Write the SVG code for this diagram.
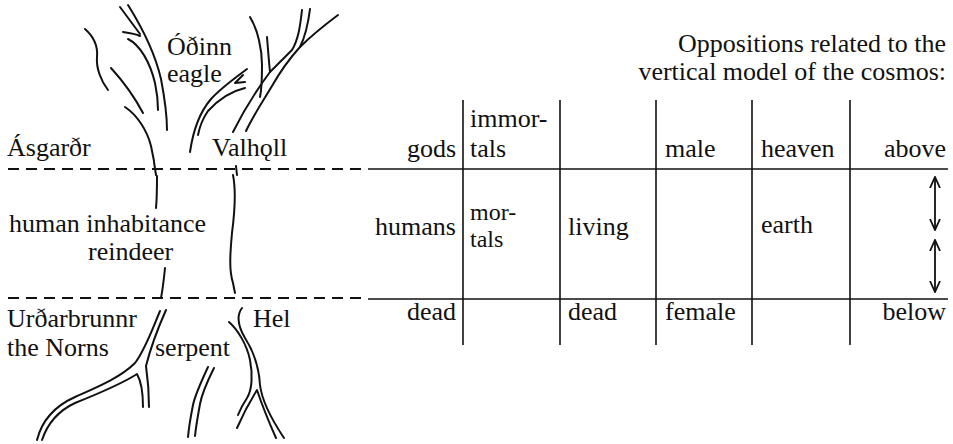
<svg xmlns="http://www.w3.org/2000/svg" width="953" height="444" viewBox="0 0 953 444">
  <style>
    text { font-family: "Liberation Serif", "Times New Roman", serif; font-size: 26px; fill: #111; }
    .end { text-anchor: end; }
    .tight { font-size: 24px; }
    .stroke { fill: none; stroke: #111; stroke-width: 2; stroke-linecap: round; stroke-linejoin: round; }
    .rule { fill: none; stroke: #111; stroke-width: 1.6; }
    .dash { fill: none; stroke: #111; stroke-width: 2; stroke-dasharray: 11 7; }
    .arrow { fill: none; stroke: #111; stroke-width: 1.8; marker-start: url(#head); marker-end: url(#head); }
  </style>
  <defs>
    <marker id="head" viewBox="0 0 12 12" refX="11" refY="6" markerWidth="12" markerHeight="12" markerUnits="userSpaceOnUse" orient="auto-start-reverse">
      <path d="M0,1 L11,6 L0,11" fill="none" stroke="#111" stroke-width="1.8"/>
    </marker>
  </defs>

  <rect width="953" height="444" fill="#fff"/>

  <!-- World tree: branches, trunk and roots -->
  <g id="tree" class="stroke">
    <!-- left crown -->
    <path d="M85,29 C94,37 98,47 97,57 C96,68 101,81 108,90"/>
    <path d="M111,68 C121,79 134,96 143,113"/>
    <path d="M125,107 C137,115 147,130 151,146 L154,161"/>
    <path d="M128,5 C143,29 155,53 161,79 C165,100 167,118 167,130"/>
    <path d="M120,7 L140,34"/>
    <path d="M123,32 C130,33 136,34 140,36"/>
    <path d="M128,39 C140,45 150,62 155,83 C158,97 158,105 158,110"/>
    <!-- eagle branch -->
    <path d="M247,69 C235,78 221,88 211,99 C199,113 193,131 190,152"/>
    <path d="M243,75 L235,83 L245,82"/>
    <path d="M245,88 C232,91 218,100 208,111 C201,121 199,130 198,135"/>
    <!-- right crown -->
    <path d="M250,17 C258,30 262,50 262,65 C262,78 262,88 260,97"/>
    <path d="M267,37 C268,50 269,62 270,72"/>
    <path d="M302,10 C300,28 298,40 292,50 L270,72 C258,88 245,108 233,132"/>
    <path d="M310,9 C308,25 305,37 300,47"/>
    <path d="M338,15 C322,27 310,37 300,47 C290,58 280,72 272,86 C263,101 253,116 246,131"/>
    <!-- trunk -->
    <path d="M154,162 L156,175"/>
    <path d="M236,166 L237,175"/>
    <path d="M157,176 C157,188 157,198 156,208"/>
    <path d="M165,268 C164,278 163,288 161,298"/>
    <path d="M233,175 C236,190 235,210 232,233 C230,255 229,270 233,283 L235,293"/>
    <!-- roots -->
    <path d="M160,311 C152,330 145,350 135,363 C120,378 95,388 75,397 C55,406 42,420 37,440"/>
    <path d="M166,310 C158,328 150,350 146,366 C148,380 149,395 149,407"/>
    <path d="M143,407 C143,392 141,381 137,374 C120,385 95,395 75,403 C58,411 47,425 42,440"/>
    <path d="M208,367 C201,382 195,395 193,405 C191,415 189,426 188,437"/>
    <path d="M214,368 C207,382 202,393 200,404 C198,415 196,426 195,436"/>
    <path d="M242,308 C236,316 238,326 245,338 C254,352 259,368 260,385 C262,402 272,420 284,438"/>
    <path d="M229,322 C238,330 247,345 250,360 C253,375 252,390 247,398 C243,404 240,410 238,415"/>
    <path d="M237,428 C244,412 252,398 257,390 C262,405 268,420 276,438"/>
  </g>

  <!-- Level boundaries of the cosmos -->
  <g id="levels">
    <path class="dash" d="M8,169 H364"/>
    <path class="dash" d="M8,298 H364"/>
  </g>

  <!-- Tree labels -->
  <g id="upper-world">
    <text x="167" y="55">Óðinn</text>
    <text x="167" y="82">eagle</text>
    <text x="7" y="156">Ásgarðr</text>
    <text x="212" y="156">Valhǫll</text>
  </g>
  <g id="middle-world">
    <text x="9" y="232">human inhabitance</text>
    <text x="88" y="260">reindeer</text>
  </g>
  <g id="lower-world">
    <text x="7" y="327">Urðarbrunnr</text>
    <text x="7" y="356">the Norns</text>
    <text x="155" y="356">serpent</text>
    <text x="253" y="327">Hel</text>
  </g>

  <!-- Table of oppositions -->
  <g id="title">
    <text class="end" x="946" y="52">Oppositions related to the</text>
    <text class="end" x="946" y="80">vertical model of the cosmos:</text>
  </g>
  <g id="table-grid" class="rule">
    <path d="M368,169 H948"/>
    <path d="M368,299 H948"/>
    <path d="M463,100 V345"/>
    <path d="M560,100 V345"/>
    <path d="M656,100 V345"/>
    <path d="M752,100 V345"/>
    <path d="M850,100 V345"/>
  </g>
  <g id="row-above">
    <text class="end" x="456" y="157">gods</text>
    <text x="470" y="127">immor-</text>
    <text x="470" y="157">tals</text>
    <text x="665" y="157">male</text>
    <text x="761" y="157">heaven</text>
    <text class="end" x="946" y="157">above</text>
  </g>
  <g id="row-middle">
    <text class="end" x="456" y="235">humans</text>
    <text class="tight" x="470" y="220">mor-</text>
    <text class="tight" x="470" y="247">tals</text>
    <text x="568" y="235">living</text>
    <text x="761" y="233">earth</text>
  </g>
  <g id="row-below">
    <text class="end" x="456" y="320">dead</text>
    <text x="568" y="320">dead</text>
    <text x="665" y="320">female</text>
    <text class="end" x="946" y="320">below</text>
  </g>
  <g id="connectors">
    <path class="arrow" d="M935,177 V230"/>
    <path class="arrow" d="M935,240 V292"/>
  </g>
</svg>
